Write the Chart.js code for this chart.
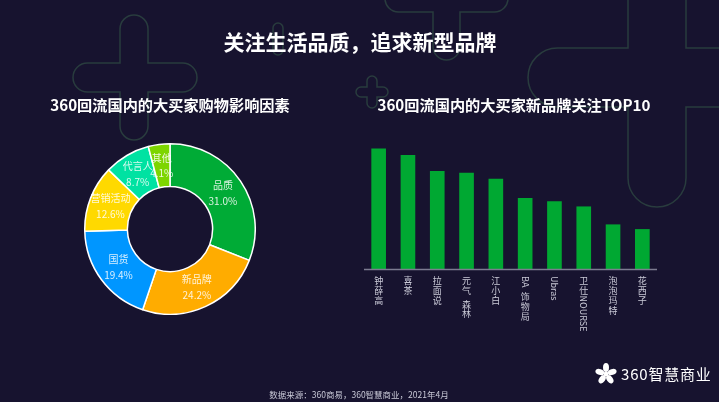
<!DOCTYPE html>
<html>
<head>
<meta charset="utf-8">
<script src="https://cdn.jsdelivr.net/npm/chart.js@4.4.0/dist/chart.umd.min.js"></script>
<style>
  body { margin: 0; width: 719px; height: 402px; background: #17132f; overflow: hidden; position: relative; font-family: "Noto Sans CJK SC", sans-serif; }
  .t { position: absolute; color: #fff; font-weight: bold; white-space: nowrap; transform: translate(-50%, -50%); line-height: 1; }
  canvas { position: absolute; }
</style>
</head>
<body>
<canvas id="bg" width="719" height="402" style="left:0;top:0"></canvas>
<div class="t" style="left:360px;top:41px;font-size:21px">关注生活品质，追求新型品牌</div>
<div class="t" style="left:170px;top:105px;font-size:15.2px">360回流国内的大买家购物影响因素</div>
<div class="t" style="left:514px;top:105px;font-size:15.2px">360回流国内的大买家新品牌关注TOP10</div>
<div class="t" style="left:359px;top:394px;font-size:8.5px;font-weight:normal;color:#c8c8d6">数据来源：360商易，360智慧商业，2021年4月</div>
<div style="position:absolute;left:621px;top:365px;font-size:15px;color:#fff;line-height:18px;letter-spacing:0.8px">360智慧商业</div>
<canvas id="pie" width="172" height="172" style="left:84px;top:143px"></canvas>
<canvas id="bar" width="293" height="210" style="left:364px;top:130px"></canvas>
<script>
// doughnut: 购物影响因素
const pieLabels = ['品质', '新品牌', '国货', '营销活动', '代言人', '其他'];
const pieValues = [31.0, 24.2, 19.4, 12.6, 8.7, 4.1];
const pieColors = ['#00ab36', '#ffac00', '#0096ff', '#ffd900', '#00e2a2', '#7dd500'];

// bar: 新品牌关注TOP10 (relative attention)
const brandNames = ['钟薛高', '喜茶', '拉面说', '元气 森林', '江小白', 'BA 饰物局', 'Ubras', '卫仕NOURSE', '泡泡玛特', '花西子'];
const brandValues = [100, 94.5, 81.2, 79.8, 74.8, 58.8, 56.1, 51.9, 37.0, 33.1];

// background line decorations
const bg = document.getElementById('bg').getContext('2d');
function cross(cx, a, top, bottom, cy, b, left, right) {
  bg.beginPath();
  bg.arc(cx, top + a, a, Math.PI, 0);
  bg.lineTo(cx + a, cy - b);
  bg.lineTo(right - b, cy - b);
  bg.arc(right - b, cy, b, -Math.PI / 2, Math.PI / 2);
  bg.lineTo(cx + a, cy + b);
  bg.lineTo(cx + a, bottom - a);
  bg.arc(cx, bottom - a, a, 0, Math.PI);
  bg.lineTo(cx - a, cy + b);
  bg.lineTo(left + b, cy + b);
  bg.arc(left + b, cy, b, Math.PI / 2, Math.PI * 1.5);
  bg.lineTo(cx - a, cy - b);
  bg.closePath();
  bg.stroke();
}
bg.strokeStyle = '#293c3e';
bg.lineWidth = 1.5;
cross(134, 14, 15, 140, 77.5, 14.5, 73, 197);
cross(372, 5, 76, 108, 92, 5, 356, 388);
cross(446.5, 13.5, -100, 60, -1.5, 13.5, 385, 508);
cross(657, 29, -200, 207, 77.5, 29.5, 528, 800);
bg.beginPath();
bg.roundRect(273, 23, 10, 32, 5);
bg.stroke();

// logo flower
bg.fillStyle = '#ffffff';
for (let i = 0; i < 5; i++) {
  const ang = -Math.PI / 2 + i * Math.PI * 2 / 5;
  bg.beginPath();
  bg.ellipse(606 + Math.cos(ang) * 6.5, 374 + Math.sin(ang) * 6.5, 4.5, 3, ang, 0, Math.PI * 2);
  bg.fill();
}
bg.beginPath();
bg.arc(606, 374, 2.5, 0, Math.PI * 2);
bg.fill();

const arcLabels = {
  id: 'arcLabels',
  afterDatasetsDraw(chart) {
    const ctx = chart.ctx;
    ctx.save();
    ctx.font = '10px "Noto Sans CJK SC"';
    ctx.fillStyle = 'rgba(255,255,255,0.85)';
    ctx.textAlign = 'center';
    ctx.textBaseline = 'middle';
    chart.getDatasetMeta(0).data.forEach((arc, i) => {
      const p = arc.tooltipPosition();
      ctx.fillText(pieLabels[i], p.x, p.y - 7.5);
      ctx.fillText(pieValues[i].toFixed(1) + '%', p.x, p.y + 8);
    });
    ctx.restore();
  }
};

new Chart(document.getElementById('pie'), {
  type: 'doughnut',
  data: {
    labels: pieLabels,
    datasets: [{
      data: pieValues,
      backgroundColor: pieColors,
      borderColor: '#ffffff',
      borderWidth: 1.5
    }]
  },
  options: {
    responsive: false,
    animation: false,
    cutout: '50%',
    plugins: { legend: { display: false }, tooltip: { enabled: false } }
  },
  plugins: [arcLabels]
});

// vertical labels: CJK upright, latin runs turned 90deg
const verticalTicks = {
  id: 'verticalTicks',
  afterDraw(chart) {
    const ctx = chart.ctx;
    const xs = chart.scales.x;
    const area = chart.chartArea;
    ctx.save();
    ctx.strokeStyle = '#7c7b90';
    ctx.lineWidth = 1.5;
    ctx.beginPath();
    ctx.moveTo(area.left, area.bottom + 0.5);
    ctx.lineTo(area.right, area.bottom + 0.5);
    ctx.stroke();
    const fs = 9;
    const adv = 9.8;
    ctx.font = fs + 'px "Noto Sans CJK SC"';
    ctx.fillStyle = '#cbcbd8';
    ctx.textAlign = 'center';
    ctx.textBaseline = 'middle';
    brandNames.forEach((name, i) => {
      const x = xs.getPixelForValue(i);
      let y = area.bottom + 7;
      const runs = name.match(/[\u4e00-\u9fff]|[A-Za-z0-9]+| /g);
      runs.forEach(r => {
        if (r === ' ') { y += fs * 0.4; return; }
        if (/[\u4e00-\u9fff]/.test(r)) {
          ctx.fillText(r, x, y + adv / 2);
          y += adv;
        } else {
          const w = ctx.measureText(r).width;
          ctx.save();
          ctx.translate(x, y + w / 2);
          ctx.rotate(Math.PI / 2);
          ctx.fillText(r, 0, 0);
          ctx.restore();
          y += w + 1;
        }
      });
    });
    ctx.restore();
  }
};

new Chart(document.getElementById('bar'), {
  type: 'bar',
  data: {
    labels: brandNames,
    datasets: [{
      data: brandValues,
      backgroundColor: '#00a832',
      barPercentage: 0.5,
      categoryPercentage: 1
    }]
  },
  options: {
    responsive: false,
    animation: false,
    layout: { padding: { top: 10, bottom: 71 } },
    scales: {
      x: { display: false },
      y: { display: false, min: 0, max: 107 }
    },
    plugins: { legend: { display: false }, tooltip: { enabled: false } }
  },
  plugins: [verticalTicks]
});
</script>
</body>
</html>
